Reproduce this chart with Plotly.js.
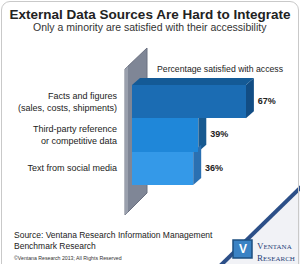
<!DOCTYPE html>
<html>
<head>
<meta charset="utf-8">
<script src="https://cdn.plot.ly/plotly-3.0.1.min.js"></script>
<style>
html,body{margin:0;padding:0;background:#fff;}
#wrap{position:relative;width:300px;height:264px;overflow:hidden;}
#chart{width:300px;height:264px;}
#frame{position:absolute;left:1px;top:1px;width:296px;height:270px;border:1px solid #c9c9c9;border-radius:9px;pointer-events:none;}
</style>
</head>
<body>
<div id="wrap"><div id="chart"></div><div id="frame"></div></div>
<script>
// ---- data ----
const categories = ["Facts and figures<br>(sales, costs, shipments)", "Third-party reference<br>or competitive data", "Text from social media"];
const satisfied = [67, 39, 36];
const valueLabels = ["67%", "39%", "36%"];
const seriesName = "Percentage satisfied with access";
const titleText = "External Data Sources Are Hard to Integrate";
const subtitleText = "Only a minority are satisfied with their accessibility";
const sourceLines = ["Source: Ventana Research Information Management", "Benchmark Research"];
const copyrightText = "©Ventana Research 2013; All Rights Reserved";

// ---- styling ----
const frontColors = ["#1b6cb3", "#1f87d9", "#3499e8"];
const sideColors = ["#124d84", "#185a91", "#2a70b2"];
const topColor = "#145a96";
const idx = categories.map((c, i) => i);

// plot area in pixels
const PL = 132, PR = 268, PT = 70, PB = 200;
const px = x => (x - PL) / (PR - PL);
const py = y => (PB - y) / (PB - PT);

const dx = 4.7, dy = 0.21; // 3D depth in axis units

const shapes = [];
// gray wall
shapes.push({type: "path", xref: "paper", yref: "paper", layer: "below",
  path: `M ${px(125)},${py(69)} L ${px(147)},${py(48)} L ${px(147)},${py(193)} L ${px(125)},${py(215)} Z`,
  fillcolor: "#7f8696", line: {color: "#6a7080", width: 1}});
shapes.push({type: "path", xref: "paper", yref: "paper", layer: "below",
  path: `M ${px(125)},${py(69)} L ${px(128)},${py(66)} L ${px(128)},${py(212)} L ${px(125)},${py(215)} Z`,
  fillcolor: "#9aa0ad", line: {width: 0}});
// side faces & top face of the bars, from data
satisfied.forEach((v, i) => {
  shapes.push({type: "path", xref: "x", yref: "y", layer: "below",
    path: `M ${v},${i - 0.5} L ${v + dx},${i - 0.5 - dy} L ${v + dx},${i + 0.5 - dy} L ${v},${i + 0.5} Z`,
    fillcolor: sideColors[i], line: {width: 0}});
});
shapes.push({type: "path", xref: "x", yref: "y", layer: "below",
  path: `M 0,-0.5 L ${dx},${-0.5 - dy} L ${satisfied[0] + dx},${-0.5 - dy} L ${satisfied[0]},-0.5 Z`,
  fillcolor: topColor, line: {width: 0}});
// decorative corner band
shapes.push({type: "path", xref: "paper", yref: "paper", layer: "above",
  path: `M ${px(300)},${py(186)} L ${px(305)},${py(186)} L ${px(305)},${py(270)} L ${px(216)},${py(270)} Z`,
  fillcolor: "#f1f2f6", line: {width: 0}});
shapes.push({type: "line", xref: "paper", yref: "paper", layer: "above",
  x0: px(302), y0: py(186), x1: px(220), y1: py(266), line: {color: "#2c4f88", width: 4}});
// logo box
shapes.push({type: "rect", xref: "paper", yref: "paper", layer: "above",
  x0: px(233), x1: px(252), y0: py(258), y1: py(240), fillcolor: "#3a82c4", line: {color: "#1d4f80", width: 1.5}});

const annotations = [
  {text: subtitleText, xref: "paper", yref: "paper", x: px(150), y: py(27), xanchor: "center", yanchor: "middle",
   showarrow: false, font: {family: "Liberation Sans, Arial", size: 10.5, color: "#333"}},
  {text: seriesName, xref: "paper", yref: "paper", x: px(220), y: py(69), xanchor: "center", yanchor: "middle",
   showarrow: false, font: {family: "Liberation Sans, Arial", size: 8.7, color: "#222"}},
  {text: sourceLines.join("<br>"), xref: "paper", yref: "paper", x: px(12), y: py(240.5), xanchor: "left", yanchor: "middle",
   align: "left", showarrow: false, font: {family: "Liberation Sans, Arial", size: 8.5, color: "#222"}},
  {text: copyrightText, xref: "paper", yref: "paper", x: px(12), y: py(258), xanchor: "left", yanchor: "middle",
   showarrow: false, font: {family: "Liberation Sans, Arial", size: 5.2, color: "#333"}},
  {text: "<b>V</b>", xref: "paper", yref: "paper", x: px(242.5), y: py(249), xanchor: "center", yanchor: "middle",
   showarrow: false, font: {family: "Liberation Sans, Arial", size: 12, color: "#ffffff"}},
  {text: "V<span style='font-size:7px'>ENTANA</span><br>R<span style='font-size:7px'>ESEARCH</span>",
   xref: "paper", yref: "paper", x: px(255), y: py(252), xanchor: "left", yanchor: "middle", align: "left", showarrow: false,
   font: {family: "Liberation Serif, serif", size: 9, color: "#1f3f77"}}
];

const traces = [
  {type: "bar", orientation: "h", x: satisfied, y: idx, width: 1, name: seriesName,
   marker: {color: frontColors, line: {width: 0}}, hoverinfo: "x+y", showlegend: false},
  {type: "scatter", mode: "text", x: satisfied.map(v => v + 7), y: idx, text: valueLabels,
   textposition: "middle right", cliponaxis: false, showlegend: false, hoverinfo: "skip",
   textfont: {family: "Liberation Sans, Arial", size: 9, color: "#222", weight: "bold"}}
];

const layout = {
  width: 300, height: 264,
  margin: {l: PL, r: 300 - PR, t: PT, b: 264 - PB},
  paper_bgcolor: "#ffffff", plot_bgcolor: "rgba(0,0,0,0)",
  title: {text: "<b>" + titleText + "</b>", xref: "container", x: 0.5, y: 1 - 14 / 264, yanchor: "middle",
    font: {family: "Liberation Sans, Arial", size: 13.5, color: "#222"}},
  xaxis: {range: [0, 80], visible: false, fixedrange: true},
  yaxis: {range: [2.95, -0.95], tickvals: idx, ticktext: categories, ticks: "", showgrid: false,
    zeroline: false, showline: false, ticklabelstandoff: 14, fixedrange: true,
    tickfont: {family: "Liberation Sans, Arial", size: 9, color: "#222"}},
  bargap: 0, showlegend: false,
  shapes: shapes, annotations: annotations
};

Plotly.newPlot("chart", traces, layout, {displayModeBar: false, staticPlot: true});
</script>
</body>
</html>
